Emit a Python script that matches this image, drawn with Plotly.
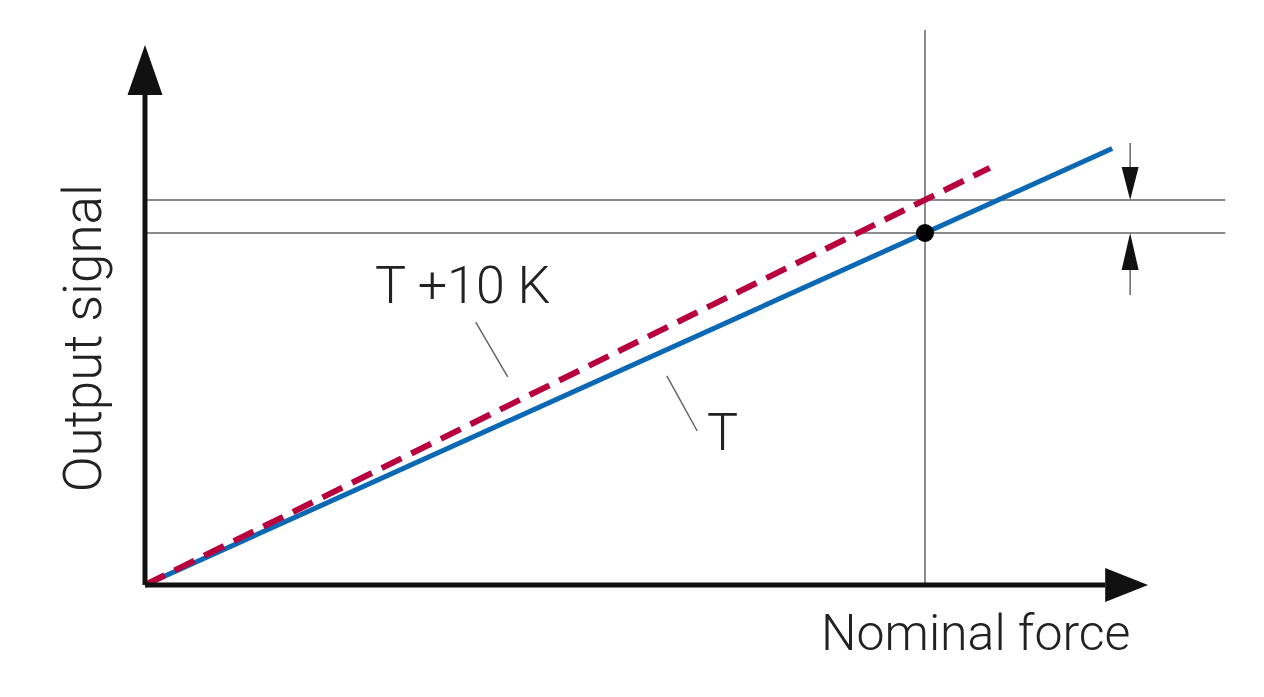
import plotly.graph_objects as go

# Output signal vs nominal force, relative units (nominal force = 1, nominal signal = 1)
force_T = [0.0, 1.24]
signal_T = [0.0, 1.24]
force_T10 = [0.0, 1.083]
signal_T10 = [0.0, 1.185]
nominal_force = 1.0
nominal_signal_T = 1.0
nominal_signal_T10 = 1.094

# pixel -> data scale (px per unit) for decorative geometry
SX, SY = 780.0, 352.0
# page body adds an 8px offset, so compensate in the axis ranges
X0, Y0 = -137 / SX, -120 / SY

AX_COLOR = "#111111"
THIN = dict(color="#666666", width=1.5)
FONT = dict(family="Roboto, Liberation Sans, Arial", size=50, color="#222222", weight=300)
FONT_Y = dict(FONT, size=53)
FONT_L = dict(FONT, size=52)

fig = go.Figure()

fig.add_trace(go.Scatter(
    x=force_T, y=signal_T, mode="lines",
    line=dict(color="#0a68b4", width=5), hoverinfo="skip"
))
fig.add_trace(go.Scatter(
    x=force_T10, y=signal_T10, mode="lines",
    line=dict(color="#b8003f", width=6, dash="22px,11px"), hoverinfo="skip"
))
fig.add_trace(go.Scatter(
    x=[nominal_force], y=[nominal_signal_T], mode="markers",
    marker=dict(color="black", size=18), hoverinfo="skip"
))

shapes = []
# reference lines
shapes.append(dict(type="line", x0=nominal_force, x1=nominal_force, y0=0, y1=1.577, line=THIN, layer="below"))
for yv in (nominal_signal_T, nominal_signal_T10):
    shapes.append(dict(type="line", x0=0, x1=1.385, y0=yv, y1=yv, line=THIN, layer="below"))

# axes with arrowheads
x_tip, x_base = 1.286, 1.231
y_tip, y_base = 1.534, 1.392
shapes.append(dict(type="line", x0=0, x1=x_base, y0=0, y1=0, line=dict(color=AX_COLOR, width=5)))
shapes.append(dict(type="line", x0=0, x1=0, y0=0, y1=y_base, line=dict(color=AX_COLOR, width=5)))
hx, hy = 17.5 / SX, 17 / SY
shapes.append(dict(type="path", path=f"M {x_base},{-hy} L {x_tip},0 L {x_base},{hy} Z",
                   fillcolor=AX_COLOR, line=dict(width=0)))
shapes.append(dict(type="path", path=f"M {-hx},{y_base} L 0,{y_tip} L {hx},{y_base} Z",
                   fillcolor=AX_COLOR, line=dict(width=0)))

# small dimension arrows
ax = 1.263
sh = 8.5 / SX
top_b, bot_b = nominal_signal_T10 + 33 / SY, nominal_signal_T - 37 / SY
shapes.append(dict(type="line", x0=ax, x1=ax, y0=1.256, y1=top_b, line=THIN))
shapes.append(dict(type="line", x0=ax, x1=ax, y0=bot_b, y1=0.824, line=THIN))
shapes.append(dict(type="path", path=f"M {ax-sh},{top_b} L {ax},{nominal_signal_T10} L {ax+sh},{top_b} Z",
                   fillcolor=AX_COLOR, line=dict(width=0)))
shapes.append(dict(type="path", path=f"M {ax-sh},{bot_b} L {ax},{nominal_signal_T} L {ax+sh},{bot_b} Z",
                   fillcolor=AX_COLOR, line=dict(width=0)))

# leader lines
shapes.append(dict(type="line", x0=0.424, y0=0.747, x1=0.465, y1=0.591, line=THIN))
shapes.append(dict(type="line", x0=0.669, y0=0.594, x1=0.708, y1=0.4375, line=THIN))

annotations = [
    dict(x=0.407, y=0.852, text="T +10 K", showarrow=False, font=FONT_L, xanchor="center", yanchor="middle"),
    dict(x=0.740, y=0.432, text="T", showarrow=False, font=FONT_L, xanchor="center", yanchor="middle"),
    dict(x=1.065, y=-0.136, text="Nominal force", showarrow=False, font=FONT, xanchor="center", yanchor="middle"),
    dict(x=-0.079, y=0.702, text="Output signal", showarrow=False, font=FONT_Y, textangle=-90,
         xanchor="center", yanchor="middle"),
]

fig.update_layout(
    width=1264, height=697,
    margin=dict(l=0, r=0, t=0, b=0),
    paper_bgcolor="white", plot_bgcolor="white",
    showlegend=False,
    shapes=shapes, annotations=annotations,
    xaxis=dict(visible=False, range=[X0, X0 + 1264 / SX], fixedrange=True),
    yaxis=dict(visible=False, range=[Y0, Y0 + 697 / SY], fixedrange=True),
)

fig.write_html("out.html")
